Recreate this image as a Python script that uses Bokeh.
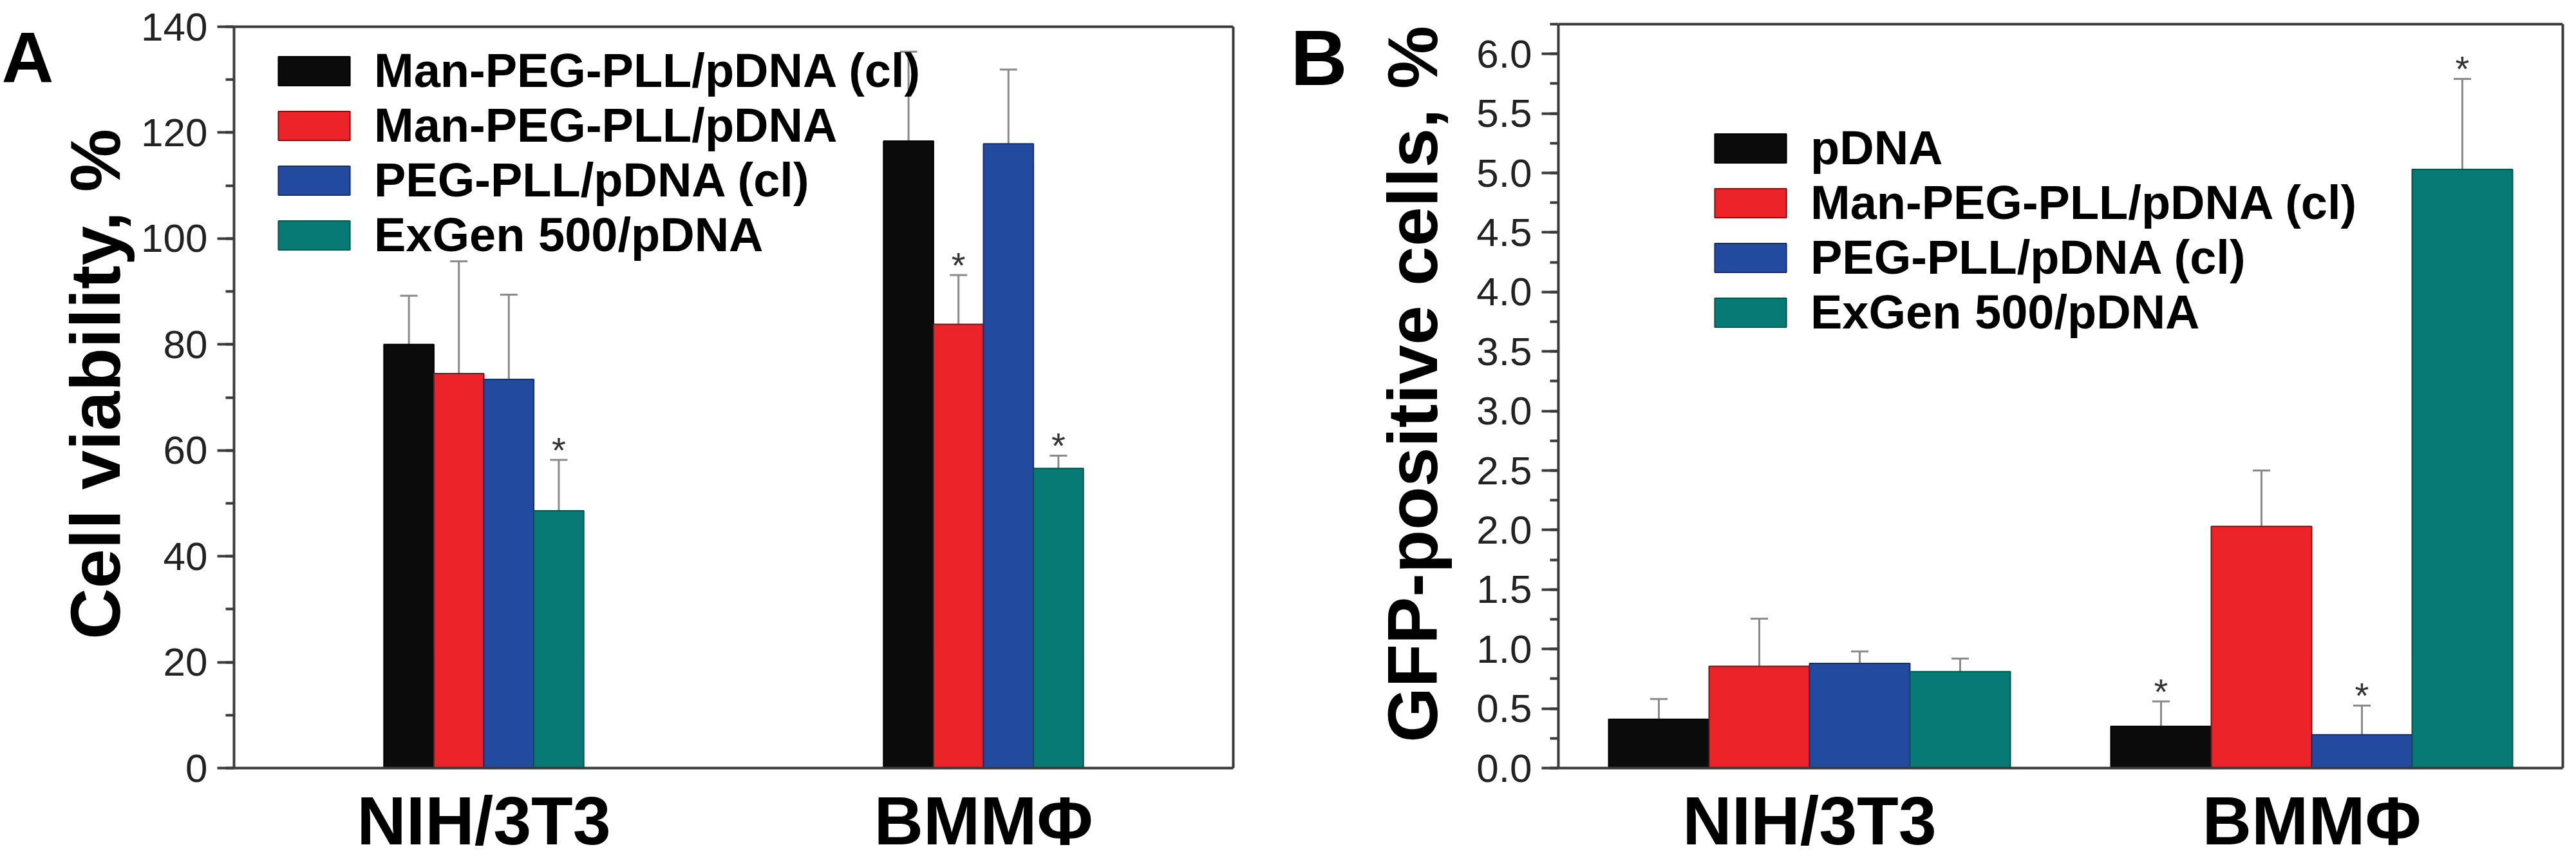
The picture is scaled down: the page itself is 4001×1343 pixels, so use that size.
from bokeh.plotting import figure
from bokeh.models import (Range1d, LinearAxis, SingleIntervalTicker, FixedTicker, ColumnDataSource,
                          Whisker, TeeHead, Legend, LegendItem, NumeralTickFormatter,
                          BasicTickFormatter, Span)
from bokeh.layouts import row
from bokeh.embed import file_html
from bokeh.resources import INLINE
from bokeh.core.properties import value

# ---------------- data ----------------
groups = ["NIH/3T3", "BMMΦ"]

# Panel A: cell viability, %
series_a = ["Man-PEG-PLL/pDNA (cl)", "Man-PEG-PLL/pDNA", "PEG-PLL/pDNA (cl)", "ExGen 500/pDNA"]
viab_man_cl = [80.0, 118.4]
viab_man = [74.5, 83.8]
viab_peg_cl = [73.4, 117.9]
viab_exgen = [48.6, 56.6]
viab_man_cl_err = [9.2, 16.9]
viab_man_err = [21.2, 9.3]
viab_peg_cl_err = [16.0, 14.0]
viab_exgen_err = [9.6, 2.4]
sig_a = [[False, False], [False, True], [False, False], [True, True]]

# Panel B: GFP-positive cells, %
series_b = ["pDNA", "Man-PEG-PLL/pDNA (cl)", "PEG-PLL/pDNA (cl)", "ExGen 500/pDNA"]
gfp_pdna = [0.41, 0.35]
gfp_man_cl = [0.855, 2.03]
gfp_peg_cl = [0.88, 0.28]
gfp_exgen = [0.81, 5.03]
gfp_pdna_err = [0.17, 0.21]
gfp_man_cl_err = [0.40, 0.47]
gfp_peg_cl_err = [0.10, 0.245]
gfp_exgen_err = [0.11, 0.76]
sig_b = [[False, True], [False, False], [False, True], [False, True]]

colors = ["#0b0b0b", "#ec2328", "#224ba0", "#087a75"]
outlines = ["#000000", "#7a1414", "#182c6e", "#05524e"]

FONT = "Liberation Sans"
AXIS_COLOR = "#3a3a3a"
ERR_COLOR = "#8a8a8a"
FIG_H = 1335
BOTTOM = 143                 # room under the plot area for the group names
FRAME_H = FIG_H - BOTTOM     # every plot area spans the full height above that


def letter_panel(letter, width, text_x, baseline_y, size):
    p = figure(width=width, height=FIG_H, output_backend="svg", toolbar_location=None,
               x_range=Range1d(0, width), y_range=Range1d(FRAME_H, 0),
               x_axis_location=None, y_axis_location=None,
               min_border=0, min_border_left=0, min_border_right=0,
               min_border_top=0, min_border_bottom=BOTTOM)
    p.grid.visible = False
    p.outline_line_color = None
    p.text(x=[text_x], y=[baseline_y], text=[letter], text_font=value(FONT),
           text_font_style="bold", text_font_size=size, text_color="black",
           text_align="left", text_baseline="alphabetic")
    return p


def make_panel(ylabel, series, vals, errs, sig, ymax, top_gap, interval, tick_fmt,
               bar_w, fig_w, border_left, frame_w, label_standoff, legend_loc):
    # the box top (ymax) sits top_gap pixels below the top of the plot area
    plot_h = FRAME_H - top_gap
    y_end = ymax * FRAME_H / plot_h
    p = figure(width=fig_w, height=FIG_H, output_backend="svg", toolbar_location=None,
               x_range=Range1d(0.5, 2.5), y_range=Range1d(0, y_end),
               x_axis_location=None, y_axis_location=None,
               min_border_left=border_left, min_border_top=0,
               min_border_right=fig_w - border_left - frame_w,
               min_border_bottom=BOTTOM)
    p.grid.visible = False
    p.outline_line_color = None
    p.background_fill_color = "white"
    p.border_fill_color = "white"

    yaxis = LinearAxis(ticker=SingleIntervalTicker(interval=interval, num_minor_ticks=2),
                       formatter=tick_fmt, bounds=(0, ymax))
    yaxis.axis_label = ylabel
    yaxis.axis_label_text_font = FONT
    yaxis.axis_label_text_font_style = "bold"
    yaxis.axis_label_text_font_size = "110px"
    yaxis.axis_label_text_color = "black"
    yaxis.axis_label_standoff = label_standoff
    yaxis.major_label_text_font = FONT
    yaxis.major_label_text_font_size = "62px"
    yaxis.major_label_text_color = "#222222"
    yaxis.major_label_standoff = 15
    yaxis.axis_line_width = 4
    yaxis.axis_line_color = AXIS_COLOR
    yaxis.major_tick_line_width = 4
    yaxis.major_tick_line_color = AXIS_COLOR
    yaxis.major_tick_out = 26
    yaxis.major_tick_in = 0
    yaxis.minor_tick_line_width = 4
    yaxis.minor_tick_line_color = AXIS_COLOR
    yaxis.minor_tick_out = 13
    yaxis.minor_tick_in = 0
    p.add_layout(yaxis, "left")

    raxis = LinearAxis(ticker=FixedTicker(ticks=[]), bounds=(0, ymax))
    raxis.axis_line_width = 4
    raxis.axis_line_color = AXIS_COLOR
    raxis.major_tick_line_color = None
    raxis.minor_tick_line_color = None
    p.add_layout(raxis, "right")

    p.add_layout(Span(location=ymax, dimension="width", line_color=AXIS_COLOR, line_width=4))

    xaxis = LinearAxis(ticker=FixedTicker(ticks=[1, 2]))
    xaxis.major_label_overrides = {1: groups[0], 2: groups[1]}
    xaxis.major_label_text_font = FONT
    xaxis.major_label_text_font_style = "bold"
    xaxis.major_label_text_font_size = "106px"
    xaxis.major_label_text_color = "black"
    xaxis.major_label_standoff = 22
    xaxis.major_tick_line_color = None
    xaxis.major_tick_out = 0
    xaxis.major_tick_in = 0
    xaxis.minor_tick_line_color = None
    xaxis.axis_line_width = 4
    xaxis.axis_line_color = AXIS_COLOR
    p.add_layout(xaxis, "below")

    items = []
    for i, name in enumerate(series):
        xs = [g + 1 + (i - 1.5) * bar_w for g in range(len(groups))]
        tops = vals[i]
        uppers = [v + e for v, e in zip(vals[i], errs[i])]
        src = ColumnDataSource(dict(x=xs, top=tops, upper=uppers))
        r = p.vbar(x="x", top="top", width=bar_w, bottom=0, source=src,
                   fill_color=colors[i], line_color=outlines[i], line_width=2)
        items.append(LegendItem(label=name, renderers=[r]))
        w = Whisker(base="x", lower="top", upper="upper", source=src,
                    line_color=ERR_COLOR, line_width=3, lower_head=None,
                    upper_head=TeeHead(size=27, line_color=ERR_COLOR, line_width=3))
        p.add_layout(w)
        sx = [x for x, s in zip(xs, sig[i]) if s]
        sy = [u for u, s in zip(uppers, sig[i]) if s]
        if sx:
            p.text(x=sx, y=sy, text=["*"] * len(sx), text_font=value(FONT),
                   text_font_size="56px", text_color="#333333", text_align="center",
                   text_baseline="alphabetic", y_offset=-16)

    legend = Legend(items=items, location=legend_loc)
    legend.label_text_font = FONT
    legend.label_text_font_style = "bold"
    legend.label_text_font_size = "74px"
    legend.label_text_color = "black"
    legend.glyph_width = 139
    legend.glyph_height = 56
    legend.label_height = 56
    legend.label_standoff = 24
    legend.spacing = 0
    legend.padding = 0
    legend.margin = 0
    legend.border_line_color = None
    legend.background_fill_alpha = 0
    p.add_layout(legend)
    return p


letter_a = letter_panel("A", 83, 2, 89, "112px")

pa = make_panel("Cell viability, %", series_a,
                [viab_man_cl, viab_man, viab_peg_cl, viab_exgen],
                [viab_man_cl_err, viab_man_err, viab_peg_cl_err, viab_exgen_err],
                sig_a, 140, 41, 20, BasicTickFormatter(), 0.1,
                fig_w=1859, border_left=274, frame_w=1558,
                label_standoff=7, legend_loc=(55, 785))

letter_b = letter_panel("B", 150, 62, 89, "122px")

pb = make_panel("GFP-positive cells, %", series_b,
                [gfp_pdna, gfp_man_cl, gfp_peg_cl, gfp_exgen],
                [gfp_pdna_err, gfp_man_cl_err, gfp_peg_cl_err, gfp_exgen_err],
                sig_b, 6.25, 37, 0.5, NumeralTickFormatter(format="0.0"), 0.2,
                fig_w=1893, border_left=328, frame_w=1560,
                label_standoff=35, legend_loc=(229, 665))

layout = row(letter_a, pa, letter_b, pb)
open("out.html", "w").write(file_html(layout, INLINE))
